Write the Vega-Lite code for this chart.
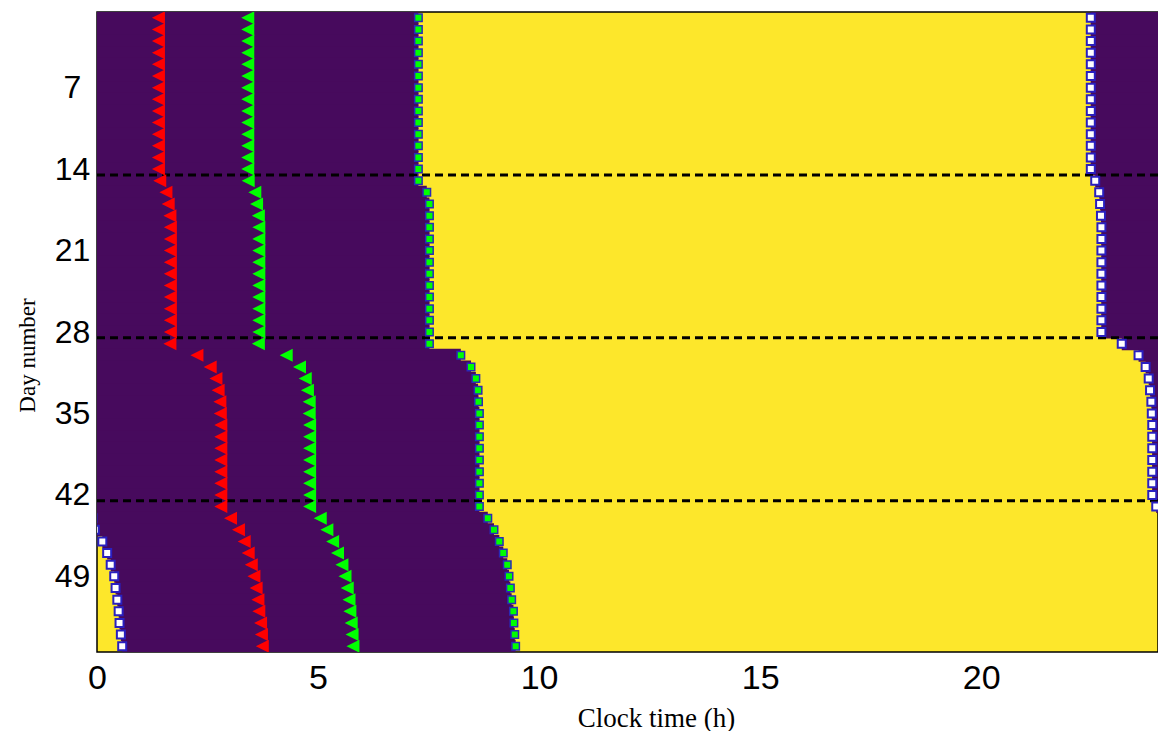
{
  "$schema": "https://vega.github.io/schema/vega-lite/v6.json",
  "width": 1061,
  "height": 640,
  "autosize": "none",
  "padding": {"left": 97, "top": 12, "right": 0, "bottom": 79},
  "background": "white",
  "config": {"view": {"fill": "#fde72b", "stroke": "#000000", "strokeWidth": 1.5}},
  "datasets": {
    "days": [
      {"day": 1, "start": 0, "wake": 7.27, "pm": 22.48, "am": null, "red": 1.39, "green": 3.41},
      {"day": 2, "start": 0, "wake": 7.27, "pm": 22.48, "am": null, "red": 1.39, "green": 3.41},
      {"day": 3, "start": 0, "wake": 7.27, "pm": 22.48, "am": null, "red": 1.39, "green": 3.41},
      {"day": 4, "start": 0, "wake": 7.27, "pm": 22.48, "am": null, "red": 1.39, "green": 3.41},
      {"day": 5, "start": 0, "wake": 7.27, "pm": 22.48, "am": null, "red": 1.39, "green": 3.41},
      {"day": 6, "start": 0, "wake": 7.27, "pm": 22.48, "am": null, "red": 1.39, "green": 3.41},
      {"day": 7, "start": 0, "wake": 7.27, "pm": 22.48, "am": null, "red": 1.39, "green": 3.41},
      {"day": 8, "start": 0, "wake": 7.27, "pm": 22.48, "am": null, "red": 1.39, "green": 3.41},
      {"day": 9, "start": 0, "wake": 7.27, "pm": 22.48, "am": null, "red": 1.39, "green": 3.41},
      {"day": 10, "start": 0, "wake": 7.27, "pm": 22.48, "am": null, "red": 1.39, "green": 3.41},
      {"day": 11, "start": 0, "wake": 7.27, "pm": 22.48, "am": null, "red": 1.39, "green": 3.41},
      {"day": 12, "start": 0, "wake": 7.27, "pm": 22.48, "am": null, "red": 1.39, "green": 3.41},
      {"day": 13, "start": 0, "wake": 7.27, "pm": 22.48, "am": null, "red": 1.39, "green": 3.41},
      {"day": 14, "start": 0, "wake": 7.27, "pm": 22.48, "am": null, "red": 1.39, "green": 3.41},
      {"day": 15, "start": 0, "wake": 7.27, "pm": 22.58, "am": null, "red": 1.42, "green": 3.42},
      {"day": 16, "start": 0, "wake": 7.46, "pm": 22.67, "am": null, "red": 1.56, "green": 3.57},
      {"day": 17, "start": 0, "wake": 7.52, "pm": 22.69, "am": null, "red": 1.61, "green": 3.61},
      {"day": 18, "start": 0, "wake": 7.52, "pm": 22.71, "am": null, "red": 1.65, "green": 3.65},
      {"day": 19, "start": 0, "wake": 7.52, "pm": 22.72, "am": null, "red": 1.66, "green": 3.66},
      {"day": 20, "start": 0, "wake": 7.52, "pm": 22.72, "am": null, "red": 1.66, "green": 3.66},
      {"day": 21, "start": 0, "wake": 7.52, "pm": 22.72, "am": null, "red": 1.66, "green": 3.66},
      {"day": 22, "start": 0, "wake": 7.52, "pm": 22.72, "am": null, "red": 1.66, "green": 3.66},
      {"day": 23, "start": 0, "wake": 7.52, "pm": 22.72, "am": null, "red": 1.66, "green": 3.66},
      {"day": 24, "start": 0, "wake": 7.52, "pm": 22.72, "am": null, "red": 1.66, "green": 3.66},
      {"day": 25, "start": 0, "wake": 7.52, "pm": 22.72, "am": null, "red": 1.66, "green": 3.66},
      {"day": 26, "start": 0, "wake": 7.52, "pm": 22.72, "am": null, "red": 1.66, "green": 3.66},
      {"day": 27, "start": 0, "wake": 7.52, "pm": 22.72, "am": null, "red": 1.66, "green": 3.66},
      {"day": 28, "start": 0, "wake": 7.52, "pm": 22.72, "am": null, "red": 1.66, "green": 3.66},
      {"day": 29, "start": 0, "wake": 7.52, "pm": 23.18, "am": null, "red": 1.65, "green": 3.65},
      {"day": 30, "start": 0, "wake": 8.23, "pm": 23.56, "am": null, "red": 2.26, "green": 4.28},
      {"day": 31, "start": 0, "wake": 8.46, "pm": 23.72, "am": null, "red": 2.56, "green": 4.58},
      {"day": 32, "start": 0, "wake": 8.57, "pm": 23.79, "am": null, "red": 2.69, "green": 4.71},
      {"day": 33, "start": 0, "wake": 8.62, "pm": 23.82, "am": null, "red": 2.74, "green": 4.76},
      {"day": 34, "start": 0, "wake": 8.63, "pm": 23.85, "am": null, "red": 2.78, "green": 4.8},
      {"day": 35, "start": 0, "wake": 8.65, "pm": 23.86, "am": null, "red": 2.79, "green": 4.8},
      {"day": 36, "start": 0, "wake": 8.65, "pm": 23.87, "am": null, "red": 2.8, "green": 4.81},
      {"day": 37, "start": 0, "wake": 8.65, "pm": 23.87, "am": null, "red": 2.8, "green": 4.81},
      {"day": 38, "start": 0, "wake": 8.65, "pm": 23.87, "am": null, "red": 2.8, "green": 4.81},
      {"day": 39, "start": 0, "wake": 8.65, "pm": 23.87, "am": null, "red": 2.8, "green": 4.81},
      {"day": 40, "start": 0, "wake": 8.65, "pm": 23.87, "am": null, "red": 2.8, "green": 4.81},
      {"day": 41, "start": 0, "wake": 8.65, "pm": 23.87, "am": null, "red": 2.8, "green": 4.81},
      {"day": 42, "start": 0, "wake": 8.65, "pm": 23.87, "am": null, "red": 2.8, "green": 4.81},
      {"day": 43, "start": 0, "wake": 8.65, "pm": 23.96, "am": null, "red": 2.8, "green": 4.81},
      {"day": 44, "start": 0, "wake": 8.84, "pm": null, "am": -0.1, "red": 3.02, "green": 5.05},
      {"day": 45, "start": 0, "wake": 8.98, "pm": null, "am": -0.05, "red": 3.2, "green": 5.2},
      {"day": 46, "start": 0.12, "wake": 9.1, "pm": null, "am": 0.12, "red": 3.33, "green": 5.33},
      {"day": 47, "start": 0.23, "wake": 9.19, "pm": null, "am": 0.23, "red": 3.42, "green": 5.44},
      {"day": 48, "start": 0.31, "wake": 9.28, "pm": null, "am": 0.31, "red": 3.49, "green": 5.54},
      {"day": 49, "start": 0.39, "wake": 9.32, "pm": null, "am": 0.39, "red": 3.55, "green": 5.61},
      {"day": 50, "start": 0.42, "wake": 9.35, "pm": null, "am": 0.42, "red": 3.6, "green": 5.66},
      {"day": 51, "start": 0.46, "wake": 9.38, "pm": null, "am": 0.46, "red": 3.64, "green": 5.7},
      {"day": 52, "start": 0.49, "wake": 9.42, "pm": null, "am": 0.49, "red": 3.66, "green": 5.72},
      {"day": 53, "start": 0.51, "wake": 9.43, "pm": null, "am": 0.51, "red": 3.7, "green": 5.75},
      {"day": 54, "start": 0.54, "wake": 9.45, "pm": null, "am": 0.54, "red": 3.72, "green": 5.77},
      {"day": 55, "start": 0.57, "wake": 9.47, "pm": null, "am": 0.57, "red": 3.74, "green": 5.79}
    ],
    "breaks": [{"day": 14.5}, {"day": 28.5}, {"day": 42.5}]
  },
  "layer": [
    {
      "data": {"name": "days"},
      "mark": {"type": "bar", "color": "#470a5d", "size": 13, "clip": true},
      "encoding": {
        "x": {
          "field": "start", "type": "quantitative",
          "scale": {"domain": [0, 24], "nice": false, "zero": false, "padding": 0},
          "axis": {
            "values": [0, 5, 10, 15, 20], "grid": false, "ticks": false, "tickSize": 0, "domain": false,
            "labelFont": "Liberation Sans", "labelFontSize": 34, "labelColor": "#000000",
            "labelBaseline": "middle", "labelPadding": 26, "labelFlush": false,
            "title": "Clock time (h)", "titleFont": "Liberation Serif", "titleFontSize": 27,
            "titleFontWeight": "normal", "titleColor": "#000000",
            "titleX": 559, "titleY": 66, "titleBaseline": "middle", "titleAlign": "center"
          }
        },
        "x2": {"field": "wake"},
        "y": {
          "field": "day", "type": "quantitative",
          "scale": {"domain": [0.5, 55.5], "reverse": true, "nice": false, "zero": false, "padding": 0},
          "axis": {
            "values": [7, 14, 21, 28, 35, 42, 49], "grid": false, "ticks": false, "tickSize": 0, "domain": false,
            "labelFont": "Liberation Sans", "labelFontSize": 32, "labelColor": "#000000",
            "labelAlign": "center", "labelBaseline": "middle", "labelPadding": 25,
            "title": "Day number", "titleFont": "Liberation Serif", "titleFontSize": 23,
            "titleFontWeight": "normal", "titleColor": "#000000",
            "titleX": -70, "titleY": 343, "titleAngle": 270, "titleBaseline": "middle", "titleAlign": "center"
          }
        }
      }
    },
    {
      "data": {"name": "days"},
      "mark": {"type": "bar", "color": "#470a5d", "size": 13, "clip": true},
      "encoding": {
        "x": {"field": "pm", "type": "quantitative"},
        "x2": {"datum": 24},
        "y": {"field": "day", "type": "quantitative"}
      }
    },
    {
      "data": {"name": "breaks"},
      "mark": {"type": "rule", "color": "#000000", "strokeWidth": 3, "strokeDash": [8, 5]},
      "encoding": {
        "y": {"field": "day", "type": "quantitative"}
      }
    },
    {
      "data": {"name": "days"},
      "mark": {"type": "point", "shape": "M-1,0L1,-1L1,1Z", "filled": true, "color": "#ff0000", "opacity": 1, "size": 169, "clip": true},
      "encoding": {
        "x": {"field": "red", "type": "quantitative"},
        "y": {"field": "day", "type": "quantitative"}
      }
    },
    {
      "data": {"name": "days"},
      "mark": {"type": "point", "shape": "M-1,0L1,-1L1,1Z", "filled": true, "color": "#00ff00", "opacity": 1, "size": 169, "clip": true},
      "encoding": {
        "x": {"field": "green", "type": "quantitative"},
        "y": {"field": "day", "type": "quantitative"}
      }
    },
    {
      "data": {"name": "days"},
      "mark": {"type": "point", "shape": "square", "filled": true, "fill": "#00ff00", "stroke": "#2a2ab8", "strokeWidth": 1.5, "opacity": 1, "size": 56, "clip": true},
      "encoding": {
        "x": {"field": "wake", "type": "quantitative"},
        "y": {"field": "day", "type": "quantitative"}
      }
    },
    {
      "data": {"name": "days"},
      "mark": {"type": "point", "shape": "square", "filled": true, "fill": "#ffffff", "stroke": "#2a20c0", "strokeWidth": 2, "opacity": 1, "size": 64, "clip": true},
      "encoding": {
        "x": {"field": "pm", "type": "quantitative"},
        "y": {"field": "day", "type": "quantitative"}
      }
    },
    {
      "data": {"name": "days"},
      "mark": {"type": "point", "shape": "square", "filled": true, "fill": "#ffffff", "stroke": "#2a20c0", "strokeWidth": 2, "opacity": 1, "size": 64, "clip": true},
      "encoding": {
        "x": {"field": "am", "type": "quantitative"},
        "y": {"field": "day", "type": "quantitative"}
      }
    }
  ]
}
